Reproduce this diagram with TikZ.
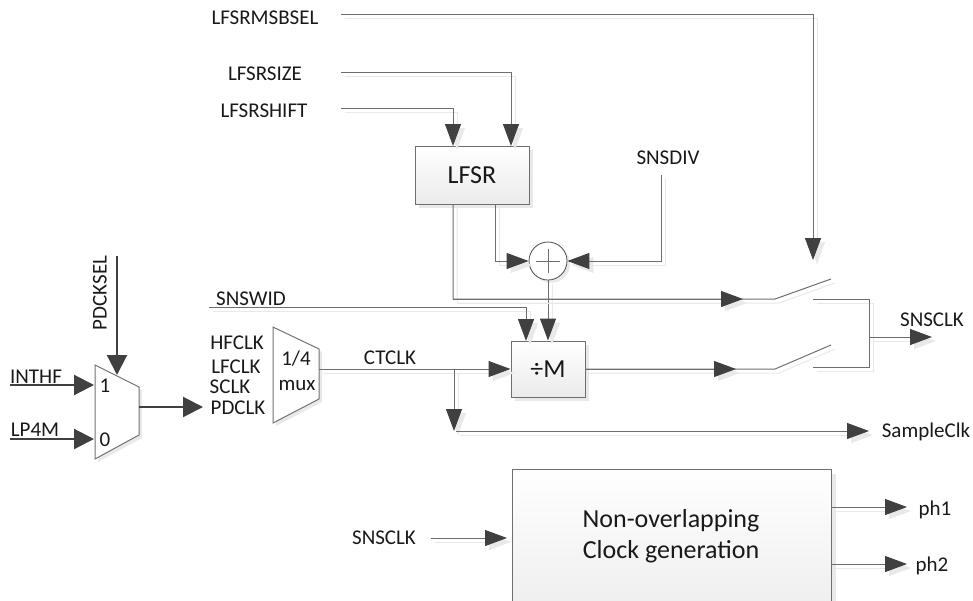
\documentclass[tikz,border=0pt]{standalone}
\usepackage{fontspec}
\setmainfont{Carlito}
\usetikzlibrary{arrows.meta,shadows,calc}
\definecolor{ln}{HTML}{6E6E6E}
\definecolor{dk}{HTML}{404040}
\definecolor{sh}{HTML}{E9E9E9}
\tikzset{x=1pt,y=-1pt,
 wire/.style={draw=ln,line width=1pt,preaction={draw=sh,line width=1pt,transform canvas={shift={(4pt,-4pt)}}}},
 arr/.style={draw=ln,line width=1pt,-{Triangle[length=22pt,width=16pt,color=dk]},
   preaction={draw=sh,line width=1pt,-{Triangle[length=22pt,width=16pt,color=sh]},transform canvas={shift={(4pt,-4pt)}}}},
 thickwire/.style={draw=dk,line width=2.2pt,-{Triangle[length=20pt,width=20pt,color=dk]}},
 lbl/.style={font=\fontsize{21}{21}\selectfont,inner sep=0pt,text=black!90},
 biglbl/.style={font=\fontsize{26}{26}\selectfont,inner sep=0pt,text=black!90},
 boxn/.style={draw=ln,line width=1pt,top color=white,bottom color=black!8,general shadow={fill=sh,shadow xshift=4pt,shadow yshift=-4pt},inner sep=0pt,biglbl},
 muxs/.style={draw=black!55,line width=1pt,fill=white,general shadow={fill=sh,shadow xshift=3pt,shadow yshift=-3pt}}
}
\begin{document}
\begin{tikzpicture}
\useasboundingbox (0,0) rectangle (973,600);
% boxes
\node[boxn,minimum width=114pt,minimum height=58pt] (lfsr) at (472,175) {LFSR};
\node[boxn,minimum width=74pt,minimum height=56pt] (divm) at (548,369) {÷M};
\begin{scope}
\clip (0,0) rectangle (973,600);
\node[boxn,minimum width=319pt,minimum height=170pt,anchor=north west] (nov) at (512,469) {};
\end{scope}
\node[biglbl] (nov1) at (671,521) {Non-overlapping};
\node[biglbl] (nov2) at (671,552) {Clock generation};
\node[draw=black!70,line width=.8pt,fill=white,circle,minimum size=38pt,inner sep=0pt,general shadow={fill=sh,shadow xshift=3pt,shadow yshift=-3pt}] (add) at (548,261) {};
\draw[ln,line width=.8pt] (add.center)+(-12,0) -- +(12,0) (add.center)+(0,-12) -- +(0,12);
% muxes
\draw[muxs] (95,365) -- (139,387) -- (139,435) -- (95,459) -- cycle;
\draw[muxs] (273,327) -- (319,349) -- (319,399) -- (273,423) -- cycle;
% labels
\node[lbl,rotate=90] (pdsel) at (100,293) {PDCKSEL};
\node[lbl] (inthf) at (36,377) {INTHF};
\node[lbl] (lp4m) at (35,430) {LP4M};
\node[lbl] (one) at (105,386) {1};
\node[lbl] (zero) at (105,440) {0};
\node[lbl] (hf) at (237,343) {HFCLK};
\node[lbl] (lf) at (236,367) {LFCLK};
\node[lbl] (sc) at (230,387) {SCLK};
\node[lbl] (pd) at (238,408) {PDCLK};
\node[lbl] (q) at (296,359) {1/4};
\node[lbl] (mx) at (297,385) {mux};
\node[lbl] (ct) at (390,358) {CTCLK};
\node[lbl] (sw) at (251,299) {SNSWID};
\node[lbl] (msb) at (265,18) {LFSRMSBSEL};
\node[lbl] (siz) at (265,74) {LFSRSIZE};
\node[lbl] (shf) at (264,111) {LFSRSHIFT};
\node[lbl] (div) at (668,158) {SNSDIV};
\node[lbl] (clk) at (932,320) {SNSCLK};
\node[lbl] (smp) at (926,432) {SampleClk};
\node[lbl] (clk2) at (384,538) {SNSCLK};
\node[lbl] (ph1) at (935,510) {ph1};
\node[lbl] (ph2) at (932,566) {ph2};
% coordinates
\coordinate (msbs) at (341,14);
\coordinate (sizs) at (341,72);
\coordinate (shfs) at (341,108);
\coordinate (swtop) at (813,260);
\coordinate (sizt) at (511,146);
\coordinate (shft) at (453,146);
\coordinate (lfb1) at (453,204);
\coordinate (lfb2) at (495,204);
\coordinate (divs) at (661,175);
\coordinate (s1arr) at (743,299);
\coordinate (s2arr) at (736,369);
\coordinate (s1a) at (775,299); \coordinate (s1b) at (831,279);
\coordinate (c1a) at (813,299); \coordinate (c1b) at (869,299);
\coordinate (s2a) at (775,369); \coordinate (s2b) at (831,345);
\coordinate (c2a) at (813,367); \coordinate (c2b) at (869,367);
\coordinate (cjoin) at (869,337);
\coordinate (outr) at (932,337);
\coordinate (brn) at (454,369);
\coordinate (brt) at (454,431);
\coordinate (smps) at (456,431);
\coordinate (smpe) at (869,431);
\coordinate (swid) at (209,307);
\coordinate (swidt) at (526,341);
\coordinate (mux1out) at (139,407);
\coordinate (mux1end) at (203,407);
\coordinate (mux2out) at (319,369);
\coordinate (clks) at (431,538);
\coordinate (clke) at (507,538);
\coordinate (p1s) at (831,507);
\coordinate (p1e) at (907,507);
\coordinate (p2s) at (831,564);
\coordinate (p2e) at (907,564);
\coordinate (sels) at (117,256);
\coordinate (sele) at (117,375);
\coordinate (ints) at (10,385);
\coordinate (inte) at (94,385);
\coordinate (lps) at (10,439);
\coordinate (lpe) at (94,439);
% wires
\path[arr] (msbs) -| (swtop);
\path[arr] (sizs) -| (sizt);
\path[arr] (shfs) -| (shft);
\path[arr] (lfb2) |- (add.west);
\path[arr] (divs) |- (add.east);
\path[arr] (add.south) -- (divm.north);
\path[arr] (swid) -| (swidt);
\path[arr] (mux2out) -- (divm.west);
\path[arr] (brn) -- (brt);
\path[arr] (smps) -- (smpe);
\path[wire] (lfb1) |- (s1a) -- (s1b);
\path[arr] (lfb1 |- s1a) -- (s1arr);
\path[wire] (divm.east) -- (s2a) -- (s2b);
\path[arr] (divm.east) -- (s2arr);
\path[wire] (c1a) -- (c1b) -- (c2b) -- (c2a);
\path[arr] (cjoin) -- (outr);
\path[arr] (clks) -- (clke);
\path[arr] (p1s) -- (p1e);
\path[arr] (p2s) -- (p2e);
\draw[thickwire] (sels) -- (sele);
\draw[thickwire] (ints) -- (inte);
\draw[thickwire] (lps) -- (lpe);
\draw[thickwire] (mux1out) -- (mux1end);
\end{tikzpicture}
\end{document}
